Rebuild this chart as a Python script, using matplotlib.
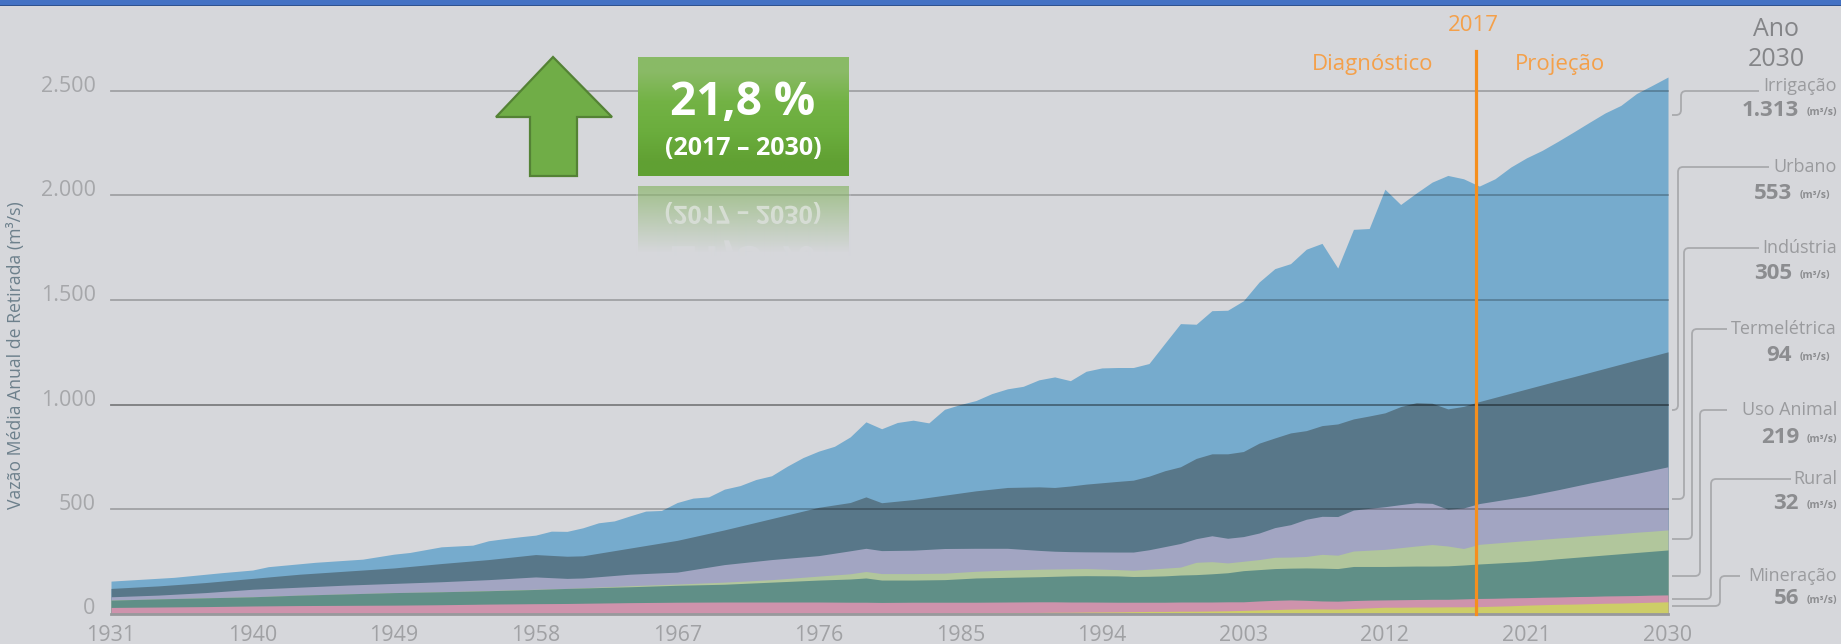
import numpy as np
import matplotlib
matplotlib.use('Agg')
import matplotlib.pyplot as plt
from matplotlib.patches import PathPatch, Polygon, Rectangle
from matplotlib.path import Path
from matplotlib.textpath import TextPath
from matplotlib.font_manager import FontProperties
from matplotlib.transforms import Affine2D, ScaledTranslation

plt.rcParams['font.family'] = ['Open Sans', 'DejaVu Sans']

# years where the lower bands were read
years = [1931, 1934, 1937, 1940, 1943, 1946, 1949, 1952, 1955, 1958,
         1960, 1961, 1964, 1967, 1970, 1973, 1976, 1978, 1979, 1980,
         1982, 1984, 1986, 1988, 1990, 1991, 1992, 1993, 1995, 1996,
         1997, 1998, 1999, 2000, 2001, 2002,
         2003, 2004, 2005, 2006, 2007, 2008, 2009, 2010, 2011, 2012, 2013, 2014, 2015, 2016,
         2017, 2018, 2019, 2020, 2021, 2022, 2023, 2024, 2025, 2026, 2027, 2028, 2029, 2030]

# top edge of each stacked band (m3/s)
top_mineracao = [0, 0, 0, 0, 0, 0, 0, 0, 0, 0,
                 0, 0, 0, 0, 0, 0, 0, 0, 0, 0,
                 0, 1, 3, 4, 5, 6, 6, 7, 8, 9,
                 10, 10, 11, 11, 12, 13,
                 15, 17, 19, 21, 22, 22, 21, 24, 27, 30, 30, 31, 31, 32,
                 32, 33, 35, 37, 40, 42, 44, 45, 47, 49, 50, 52, 54, 56]
top_rural = [29, 31, 33, 36, 38, 39, 40, 42, 45, 47,
             48, 49, 52, 54, 55, 55, 55, 54, 54, 53,
             54, 54, 54, 55, 56, 56, 55, 55, 54, 54,
             54, 54, 55, 55, 55, 56,
             56, 60, 63, 65, 63, 60, 59, 62, 64, 65, 66, 67, 68, 68,
             70, 72, 73, 75, 76, 78, 79, 81, 82, 84, 85, 86, 88, 89]
top_animal = [64, 70, 75, 80, 88, 94, 100, 104, 109, 115,
              120, 122, 128, 135, 140, 150, 160, 165, 170, 160,
              160, 162, 170, 173, 176, 178, 180, 181, 180, 177,
              178, 180, 184, 186, 190, 195,
              205, 210, 215, 217, 218, 217, 215, 225, 225, 225, 226, 227, 227, 228,
              232, 237, 241, 245, 249, 255, 262, 268, 274, 280, 286, 292, 298, 304]
top_termo = [64, 70, 75, 80, 88, 94, 100, 104, 110, 116,
             120, 123, 133, 141, 150, 162, 179, 190, 201, 191,
             191, 193, 202, 208, 212, 213, 214, 215, 210, 207,
             212, 217, 222, 245, 248, 242,
             250, 258, 269, 270, 273, 283, 279, 299, 303, 307, 315, 323, 330, 323,
             311, 331, 337, 343, 349, 355, 361, 366, 372, 377, 383, 389, 394, 400]
top_industria = [80, 88, 100, 116, 126, 136, 144, 152, 162, 175,
                 168, 170, 188, 198, 234, 258, 277, 300, 312, 301,
                 303, 311, 312, 312, 302, 298, 296, 295, 294, 294,
                 305, 320, 335, 358, 372, 360,
                 368, 385, 411, 425, 451, 465, 464, 495, 503, 511, 521, 530, 527, 499,
                 505, 526, 538, 550, 562, 577, 592, 608, 624, 639, 655, 670, 686, 702]
top_urbano = [120, 132, 148, 168, 188, 203, 218, 239, 258, 282,
              274, 276, 313, 350, 400, 454, 508, 531, 558, 530,
              545, 566, 587, 603, 606, 603, 610, 619, 632, 638,
              657, 683, 702, 742, 764, 764,
              775, 815, 840, 864, 875, 899, 907, 931, 945, 960, 990, 1009, 1006, 979,
              991, 1014, 1034, 1054, 1074, 1094, 1114, 1133, 1153, 1173, 1193, 1213, 1232, 1252]

# the outer edge was readable year by year
years_irrigacao = [1931, 1935, 1938, 1940, 1941, 1944, 1947, 1949, 1950, 1952, 1954, 1955] + list(range(1956, 2031))
top_irrigacao = [155, 173, 195, 208, 224, 245, 260, 284, 292, 319, 327, 348,
                 358, 367, 375, 394, 393, 410, 434, 443, 467, 490, 493, 531, 552, 558,
                 595, 612, 641, 659, 705, 746, 777, 800, 845, 917,
                 884, 914, 925, 912, 977, 1000, 1019, 1052, 1075, 1087,
                 1118, 1132, 1114, 1159, 1175, 1177, 1177, 1196, 1292, 1387,
                 1384, 1449, 1451, 1496, 1586, 1650, 1674, 1743, 1771, 1653,
                 1838, 1842, 2030, 1957, 2012, 2064, 2096, 2080, 2045, 2080,
                 2136, 2180, 2216, 2259, 2304, 2350, 2395, 2431, 2488, 2527, 2567]

x_ticks = [1931, 1940, 1949, 1958, 1967, 1976, 1985, 1994, 2003, 2012, 2021, 2030]
y_ticks = [0, 500, 1000, 1500, 2000, 2500]
y_tick_labels = ['0', '500', '1.000', '1.500', '2.000', '2.500']

labels = ['Irrigação', 'Urbano', 'Indústria', 'Termelétrica', 'Uso Animal', 'Rural', 'Mineração']
values = ['1.313', '553', '305', '94', '219', '32', '56']

W, H = 1841, 644
BG = '#D6D7DB'
fig = plt.figure(figsize=(W / 100, H / 100), dpi=100, facecolor=BG)

# main chart
ax = fig.add_axes([111 / W, (H - 613.5) / H, (1668 - 111) / W, (613.5 - 91) / H])
ax.set_facecolor('none')
ax.set_xlim(1931, 2030)
ax.set_ylim(0, 2500)

# painted from the outside in, each band covers the one above it down to zero
ax.fill_between(years_irrigacao, 0, top_irrigacao, color='#76ABCD', lw=0, zorder=2, clip_on=False)
for top, col in [(top_urbano, '#587789'), (top_industria, '#A2A5C2'), (top_termo, '#B1C69C'),
                 (top_animal, '#608F87'), (top_rural, '#CE93AC'), (top_mineracao, '#CDCD68')]:
    ax.fill_between(years, 0, top, color=col, lw=0, zorder=2, clip_on=False)

for v in y_ticks[1:]:
    a = 0.42 if v == 1000 else 0.25
    ax.axhline(v, color='k', alpha=a, lw=1.3, zorder=3, clip_on=False)
ax.axhline(0, color='#98999C', lw=2, zorder=3, clip_on=False)

for s in ax.spines.values():
    s.set_visible(False)
ax.set_xticks(x_ticks)
ax.set_yticks(y_ticks)
ax.set_yticklabels(y_tick_labels)
ax.tick_params(axis='x', length=3, width=1, direction='in', color='#E6E6E6',
               labelsize=15.5, labelcolor='#A0A1A4', pad=8)
ax.tick_params(axis='y', length=0, labelsize=15.5, labelcolor='#A6A7AA', pad=11)
ax.xaxis.get_major_ticks()[0].tick1line.set_visible(False)
ax.xaxis.get_major_ticks()[-1].tick1line.set_visible(False)
up = ScaledTranslation(0, 7 / 100, fig.dpi_scale_trans)
for t in ax.get_yticklabels():
    t.set_transform(t.get_transform() + up)

ax.plot([2017.8, 2017.8], [0, 2689], color='#F58F1E', lw=2.3, zorder=5, clip_on=False)

# everything around the chart, in pixel coords
ov = fig.add_axes([0, 0, 1, 1], zorder=10)
ov.set_facecolor('none')
ov.axis('off')

ov.add_patch(Rectangle((0, 0), W, 5, fc='#4472C4', ec='none'))
ov.add_patch(Rectangle((0, 5), W, 1, fc='#2F528F', ec='none'))

ov.text(16, 355, 'Vazão Média Anual de Retirada (m³/s)', rotation=90, ha='center', va='center',
        fontsize=12.7, color='#6D808C')

orange = '#F4A04A'
ov.text(1473, 25, '2017', ha='center', va='center', fontsize=16, color=orange)
ov.text(1373, 64, 'Diagnóstico', ha='center', va='center', fontsize=16, color=orange)
ov.text(1560, 64, 'Projeção', ha='center', va='center', fontsize=16, color=orange)
ov.text(1776, 29, 'Ano', ha='center', va='center', fontsize=18, color='#848588')
ov.text(1776, 59, '2030', ha='center', va='center', fontsize=18, color='#848588')

# leaders: start x, start y, vertical x, end y
leaders = [(1759, 91, 1681, 115), (1769, 167, 1678, 410), (1759, 248, 1684, 499),
           (1727, 329, 1692, 539), (1727, 410, 1700, 576), (1791, 479, 1711, 599),
           (1740, 576, 1720, 606)]
for x0, y0, xc, y1 in leaders:
    r = 5
    verts = [(x0, y0), (xc + r, y0), (xc, y0), (xc, y0 + r), (xc, y1 - r), (xc, y1), (xc - r, y1), (1672, y1)]
    codes = [Path.MOVETO, Path.LINETO, Path.CURVE3, Path.CURVE3, Path.LINETO, Path.CURVE3, Path.CURVE3, Path.LINETO]
    ov.add_patch(PathPatch(Path(verts, codes), fc='none', ec='#A9AAAD', lw=1.3))

label_y = [86, 167, 248, 329, 410, 479, 576]
value_y = [110, 193, 273, 355, 437, 503, 598]
unit_x = [1837, 1830, 1830, 1830, 1837, 1837, 1837]
for lab, val, ly, vy, ux in zip(labels, values, label_y, value_y, unit_x):
    ov.text(1837, ly, lab, ha='right', va='center', fontsize=13, color='#9A9B9E')
    ov.text(ux - 38, vy, val, ha='right', va='center', fontsize=16, fontweight='bold', color='#8C8D90')
    ov.text(ux, vy + 2, '(m³/s)', ha='right', va='center', fontsize=7.5, fontweight='bold', color='#8C8D90')

# arrow
ov.add_patch(Polygon([(553, 57), (612, 117), (577, 117), (577, 176), (530, 176), (530, 117), (496, 117)],
                     closed=True, fc='#70AD47', ec='#548235', lw=1.6))

# green badge with gradient
grad = np.array([[0.54, 0.73, 0.40], [0.45, 0.70, 0.27], [0.42, 0.68, 0.24], [0.38, 0.63, 0.20]])
ov.imshow(grad[:, None, :], extent=(638, 849, 176, 57), aspect='auto', interpolation='bilinear', zorder=2)
ov.text(743, 102, '21,8 %', ha='center', va='center', fontsize=33, fontweight='bold', color='white', zorder=3)
ov.text(743, 148, '(2017 – 2030)', ha='center', va='center', fontsize=18, fontweight='bold', color='white', zorder=3)

# reflection below the badge; y axis runs downwards so a TextPath comes out mirrored
ref_box = Rectangle((638, 186), 211, 68, fc='#6BA83C', ec='none', alpha=0.55, zorder=2)
ov.add_patch(ref_box)
fp = FontProperties(family='Open Sans', weight='bold')
for s, size, cy in [('(2017 – 2030)', 25, 213), ('21,8 %', 46, 260)]:
    tp = TextPath((0, 0), s, size=size, prop=fp)
    bb = tp.get_extents()
    tr = Affine2D().translate(743 - (bb.x0 + bb.x1) / 2, cy - (bb.y0 + bb.y1) / 2) + ov.transData
    p = ov.add_patch(PathPatch(tp, fc='white', ec='none', alpha=0.6, transform=tr, zorder=3))
    p.set_clip_path(ref_box)
bg_rgb = matplotlib.colors.to_rgb(BG)
fade = np.ones((70, 1, 4))
fade[:, :, :3] = bg_rgb
fade[:, 0, 3] = np.clip(np.linspace(0.1, 1.05, 70), 0, 1)
ov.imshow(fade, extent=(636, 851, 256, 186), aspect='auto', interpolation='bilinear', zorder=4)

ov.set_xlim(0, W)
ov.set_ylim(H, 0)

fig.savefig('out.png', dpi=100, facecolor=BG)
